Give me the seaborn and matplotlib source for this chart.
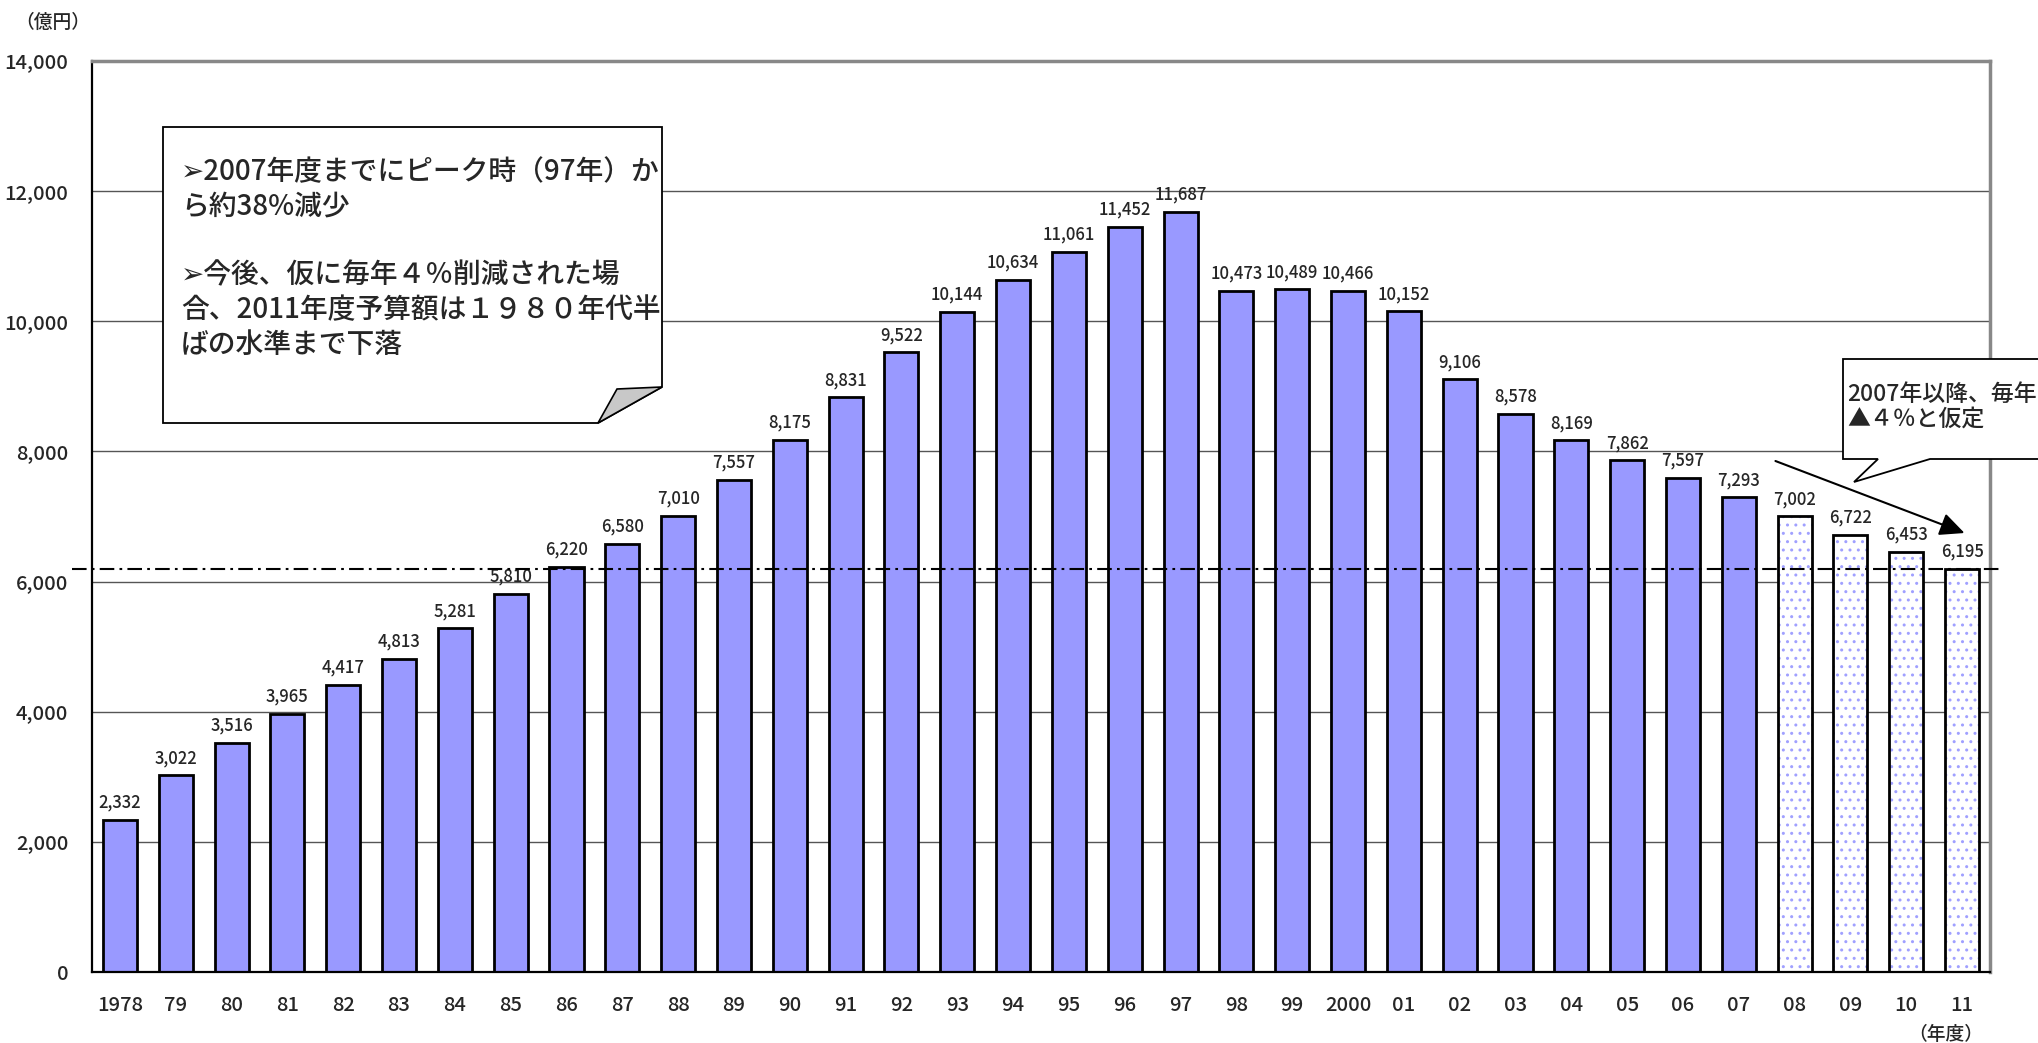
import matplotlib
matplotlib.use("Agg")
import matplotlib.pyplot as plt
import matplotlib.colors as mcolors
from matplotlib.patches import Polygon
from matplotlib.ticker import FixedLocator, FuncFormatter
import pandas as pd
import seaborn as sns

years = ["1978", "79", "80", "81", "82", "83", "84", "85", "86", "87", "88", "89",
         "90", "91", "92", "93", "94", "95", "96", "97", "98", "99", "2000", "01",
         "02", "03", "04", "05", "06", "07", "08", "09", "10", "11"]
budget = [2332, 3022, 3516, 3965, 4417, 4813, 5281, 5810, 6220, 6580, 7010, 7557,
          8175, 8831, 9522, 10144, 10634, 11061, 11452, 11687, 10473, 10489, 10466, 10152,
          9106, 8578, 8169, 7862, 7597, 7293, 7002, 6722, 6453, 6195]
kind = ["actual"] * 30 + ["projected"] * 4
reference_level = 6195

W, H = 2038, 1043

sns.set_style("white")
plt.rcParams["font.family"] = ["Noto Sans CJK JP", "DejaVu Sans"]
plt.rcParams["font.weight"] = "medium"

df = pd.DataFrame({"year": years, "value": budget, "kind": kind})

fig = plt.figure(figsize=(W / 100, H / 100), dpi=100)
ax = fig.add_axes([92 / W, 1 - 972 / H, (1990 - 92) / W, (972 - 61) / H])

sns.barplot(data=df, x="year", y="value", hue="kind", order=years,
            palette={"actual": "#9999FF", "projected": "white"}, saturation=1,
            dodge=False, width=0.61, edgecolor="black", linewidth=2,
            legend=False, ax=ax)

# projected years: white bars with light blue pattern
plt.rcParams["hatch.linewidth"] = 1.3
for cont in ax.containers:
    for p in cont:
        if p.get_facecolor()[:3] == (1.0, 1.0, 1.0):
            p.set_hatch("..")
            p._hatch_color = mcolors.to_rgba("#A0A0FF")

for cont in ax.containers:
    ax.bar_label(cont, labels=[f"{int(b.get_height()):,}" for b in cont],
                 padding=6, fontsize=12)

ax.set_xlim(-0.5, len(years) - 0.5)
ax.set_ylim(0, 14000)
ax.set_yticks(range(0, 14001, 2000))
ax.yaxis.set_major_formatter(FuncFormatter(lambda v, _: f"{int(v):,}"))
ax.set_xlabel("")
ax.set_ylabel("")
ax.grid(axis="y", color="#555555", linewidth=1)
ax.set_axisbelow(True)

ax.tick_params(axis="x", which="major", length=0, pad=17, labelsize=14.5)
ax.tick_params(axis="y", which="major", direction="in", length=6, width=1.2,
               pad=17, labelsize=14.5)
ax.xaxis.set_minor_locator(FixedLocator([i + 0.5 for i in range(len(years) - 1)]))
ax.tick_params(axis="x", which="minor", direction="in", length=7, width=1.2)

for s in ["left", "bottom"]:
    ax.spines[s].set_color("black")
    ax.spines[s].set_linewidth(1.6)
for s in ["top", "right"]:
    ax.spines[s].set_color("#888888")
    ax.spines[s].set_linewidth(2.5)

# reference level line (2011 level)
ax.plot([-0.0105, 1.0053], [reference_level, reference_level], color="black",
        linewidth=1.5, linestyle=(0, (7, 2.5, 1.3, 2.5)),
        transform=ax.get_yaxis_transform(), clip_on=False, zorder=5)

# arrow towards 2011
ax.annotate("", xy=(33.09, 6731), xytext=(29.61, 7868),
            arrowprops=dict(arrowstyle="-|>,head_length=1.5,head_width=0.7",
                            color="black", lw=1.5), zorder=6)


def px(x, y):
    return (x / W, 1 - y / H)


# main note box with folded corner
box_pts = [px(163, 127), px(662, 127), px(662, 387), px(598, 423), px(163, 423)]
fig.patches.append(Polygon(box_pts, closed=True, facecolor="white", edgecolor="black",
                           linewidth=1.3, transform=fig.transFigure, zorder=10))
fold_pts = [px(662, 387), px(598, 423), px(617, 389)]
fig.patches.append(Polygon(fold_pts, closed=True, facecolor="#C8C8C8", edgecolor="black",
                           linewidth=1.2, transform=fig.transFigure, zorder=11))

note = ("➢2007年度までにピーク時（97年）か\nら約38%減少\n\n"
        "➢今後、仮に毎年４％削減された場\n合、2011年度予算額は１９８０年代半\nばの水準まで下落")
fig.text(181 / W, 1 - 157 / H, note, fontsize=20, va="top", ha="left",
         linespacing=1.24, zorder=12)

# callout on the right
call_pts = [px(1843, 359), px(2060, 359), px(2060, 459), px(1930, 459),
            px(1854, 482), px(1878, 459), px(1843, 459)]
fig.patches.append(Polygon(call_pts, closed=True, facecolor="white", edgecolor="black",
                           linewidth=1.3, transform=fig.transFigure, zorder=10))
fig.text(1847 / W, 1 - 383 / H, "2007年以降、毎年\n▲４％と仮定", fontsize=16.5,
         va="top", ha="left", linespacing=1.1, zorder=12)

fig.text(15 / W, 1 - 22 / H, "（億円）", fontsize=13.5, va="center", ha="left")
fig.text(1983 / W, 1 - 1034 / H, "（年度）", fontsize=13.5, va="center", ha="right")

fig.savefig("out.png", dpi=100)
